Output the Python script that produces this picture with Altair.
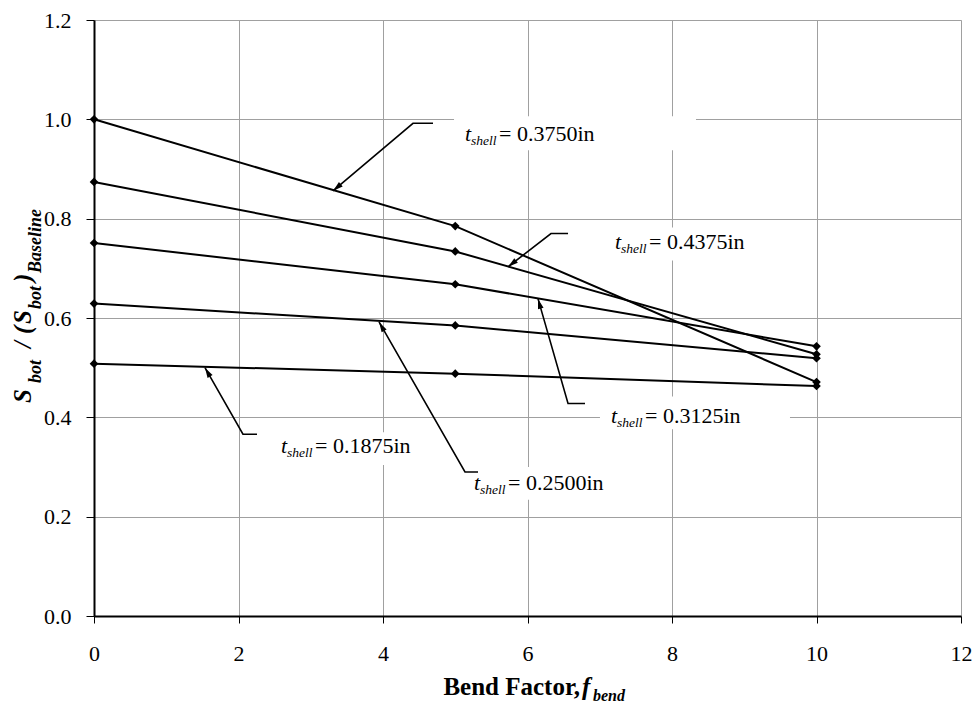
import math
import altair as alt
import pandas as pd

# ---------------- data ----------------
fbend = [0, 5, 10]
series_names = ["0.1875", "0.2500", "0.3125", "0.3750", "0.4375"]
s_0_1875 = [0.508, 0.488, 0.463]
s_0_2500 = [0.629, 0.585, 0.519]
s_0_3125 = [0.751, 0.668, 0.543]
s_0_3750 = [1.000, 0.785, 0.471]
s_0_4375 = [0.874, 0.734, 0.527]
series_values = [s_0_1875, s_0_2500, s_0_3125, s_0_3750, s_0_4375]

x_ticks = [0, 2, 4, 6, 8, 10, 12]
y_ticks = [0.0, 0.2, 0.4, 0.6, 0.8, 1.0, 1.2]

# annotation label anchors (data units): text start x, baseline y
label_x = [2.588, 5.260, 7.156, 5.135, 7.211]
label_y = [0.328, 0.254, 0.388, 0.956, 0.738]
# white label boxes (data units)
box_x1 = [2.436, 5.107, 7.003, 4.983, 7.059]
box_x2 = [5.066, 7.737, 9.633, 8.332, 9.689]
box_y1 = [0.304, 0.234, 0.376, 0.938, 0.716]
box_y2 = [0.370, 0.300, 0.442, 1.006, 0.782]
# leader lines: free end, elbow, arrow tip (data units)
lead_end_x = [2.256, 5.315, 6.796, 4.692, 6.561]
lead_elb_x = [2.062, 5.135, 6.561, 4.415, 6.325]
lead_y = [0.366, 0.290, 0.428, 0.992, 0.770]
tip_x = [1.536, 3.945, 6.145, 3.308, 5.730]
tip_y = [0.500, 0.592, 0.639, 0.856, 0.703]

# ---------------- layout ----------------
W, H = 867, 596
XMAX, YMAX = 12, 1.2
sx, sy = W / XMAX, H / YMAX
FONT = "Liberation Serif"

x_scale = alt.Scale(domain=[0, XMAX], nice=False, zero=False)
y_scale = alt.Scale(domain=[0, YMAX], nice=False, zero=False)

x_axis = alt.Axis(values=x_ticks, title=None, labelFont=FONT, labelFontSize=22,
                  labelColor="black", tickColor="black", tickSize=7, tickWidth=1,
                  domainColor="black", domainWidth=2, gridColor="#a0a0a0",
                  gridWidth=1, labelPadding=20, labelFlush=False, grid=True)
y_axis = alt.Axis(values=y_ticks, format=".1f", title=None, labelFont=FONT,
                  labelFontSize=22, labelColor="black", tickColor="black",
                  tickSize=8, tickWidth=1, domainColor="black", domainWidth=2,
                  gridColor="#a0a0a0", gridWidth=1, labelPadding=15,
                  labelFlush=False, grid=True)


def X(f):
    return alt.X(f, type="quantitative", scale=x_scale, axis=x_axis)


def Y(f):
    return alt.Y(f, type="quantitative", scale=y_scale, axis=y_axis)


rows = []
for name, vals in zip(series_names, series_values):
    for xv, yv in zip(fbend, vals):
        rows.append({"series": name, "x": xv, "y": yv})
df = pd.DataFrame(rows)

lines = alt.Chart(df).mark_line(color="black", strokeWidth=2).encode(
    x=X("x"), y=Y("y"), detail="series:N")
points = alt.Chart(df).mark_point(shape="diamond", filled=True, color="black",
                                  size=75, opacity=1).encode(x=X("x"), y=Y("y"))

boxes_df = pd.DataFrame({"x1": box_x1, "x2": box_x2, "y1": box_y1, "y2": box_y2})
boxes = alt.Chart(boxes_df).mark_rect(color="white").encode(
    x=X("x1"), x2="x2:Q", y=Y("y1"), y2="y2:Q")

# leader lines
lead_rows = []
head_rows = []
for i, name in enumerate(series_names):
    lead_rows.append({"lab": name, "o": 0, "x": lead_end_x[i], "y": lead_y[i]})
    lead_rows.append({"lab": name, "o": 1, "x": lead_elb_x[i], "y": lead_y[i]})
    lead_rows.append({"lab": name, "o": 2, "x": tip_x[i], "y": tip_y[i]})
    dxp = (tip_x[i] - lead_elb_x[i]) * sx
    dyp = -(tip_y[i] - lead_y[i]) * sy
    ang = math.degrees(math.atan2(dxp, -dyp)) % 360
    L = math.hypot(dxp, dyp)
    ux, uy = dxp / L, dyp / L
    cx = tip_x[i] - ux * 5.5 / sx
    cy = tip_y[i] + uy * 5.5 / sy
    head_rows.append({"x": cx, "y": cy, "ang": ang})
lead_df = pd.DataFrame(lead_rows)
head_df = pd.DataFrame(head_rows)

leaders = alt.Chart(lead_df).mark_line(color="black", strokeWidth=1.6).encode(
    x=X("x"), y=Y("y"), detail="lab:N", order="o:Q")
heads = alt.Chart(head_df).mark_point(
    shape="M0,-1L0.55,0.9L-0.55,0.9Z", filled=True, color="black", size=110, opacity=1
).encode(x=X("x"), y=Y("y"), angle=alt.Angle("ang:Q", scale=None))

lab_df = pd.DataFrame({"x": label_x, "y": label_y,
                       "rest": ["= " + n + "in" for n in series_names]})
lab_t = alt.Chart(lab_df).mark_text(text="t", font=FONT, fontStyle="italic", fontSize=22,
                                    align="left", baseline="alphabetic",
                                    color="black").encode(x=X("x"), y=Y("y"))
lab_sub = alt.Chart(lab_df).mark_text(text="shell", font=FONT, fontStyle="italic",
                                      fontSize=13.5, align="left", baseline="alphabetic",
                                      dx=6, dy=4, color="black").encode(x=X("x"), y=Y("y"))
lab_rest = alt.Chart(lab_df).mark_text(font=FONT, fontSize=22, align="left",
                                       baseline="alphabetic", dx=34,
                                       color="black").encode(x=X("x"), y=Y("y"),
                                                             text="rest:N")

one = pd.DataFrame({"a": [0]})


def piece(txt, x, y, size, italic=True, angle=0, align="left"):
    kw = dict(font=FONT, fontSize=size, fontWeight="bold", align=align,
              baseline="alphabetic", color="black")
    if italic:
        kw["fontStyle"] = "italic"
    if angle:
        kw["angle"] = angle
    return alt.Chart(one).mark_text(**kw).encode(
        x=alt.value(x), y=alt.value(y), text=alt.value(txt))


# y-axis title: S_bot / (S_bot)_Baseline (rotated)
ym, ys = -63, -53
ytitle = [
    piece("S", ym, 383, 25, angle=270),
    piece("bot", ys, 363, 18, angle=270),
    piece("/", ym, 328, 25, angle=270),
    piece("(", ym, 314, 25, angle=270),
    piece("S", ym, 304, 25, angle=270),
    piece("bot", ys, 289, 18, angle=270),
    piece(")", ym, 262, 25, angle=270),
    piece("Baseline", ys, 253, 18, angle=270),
]
# x-axis title: Bend Factor, f_bend
xtitle = [
    piece("Bend Factor,", 486, 675, 25, italic=False, align="right"),
    piece("f", 488, 675, 25),
    piece("bend", 499, 681, 16),
]

chart = alt.layer(
    lines, boxes, points, leaders, heads, lab_t, lab_sub, lab_rest, *ytitle, *xtitle
).properties(
    width=W, height=H,
    autosize=alt.AutoSizeParams(type="none"),
    padding={"left": 86, "top": 12, "right": 11, "bottom": 87},
).configure_view(stroke="black", strokeWidth=1.2).configure(background="white")

chart.save("out.html", embed_options={"renderer": "svg", "actions": False})
